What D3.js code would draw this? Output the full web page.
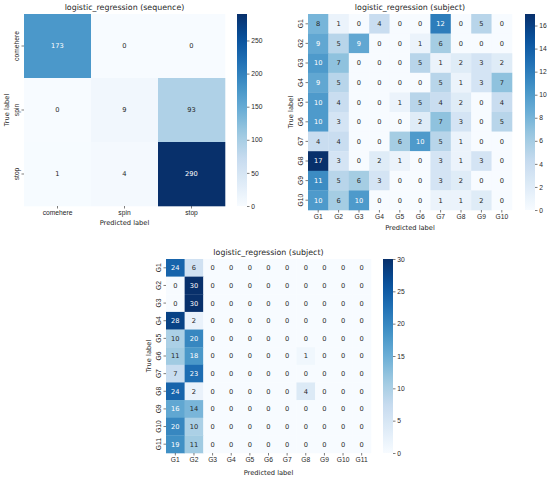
<!DOCTYPE html>
<meta charset="utf-8">
<style>
body { margin: 0; background: #fff; }
svg { font-family: "DejaVu Sans", sans-serif; }
.tick text { font-size: 6.7px; fill: #262626; }
.tick line { stroke: #262626; stroke-width: 0.6; }
.title { font-size: 7.9px; text-anchor: middle; }
.axlabel { font-size: 6.7px; text-anchor: middle; }
.annot { font-size: 6.7px; text-anchor: middle; }
</style>
<svg width="550" height="482"></svg>
<script src="https://d3js.org/d3.v7.min.js"></script>
<script>
// sequence model
var seqLabels = ["comehere", "spin", "stop"];
var seqMatrix = [
  [173, 0, 0],
  [0, 9, 93],
  [1, 4, 290]
];
var seqTicks = [0, 50, 100, 150, 200, 250];

// subject model, 10 groups
var subj10Labels = ["G1", "G2", "G3", "G4", "G5", "G6", "G7", "G8", "G9", "G10"];
var subj10Matrix = [
  [8, 1, 0, 4, 0, 0, 12, 0, 5, 0],
  [9, 5, 9, 0, 0, 1, 6, 0, 0, 0],
  [10, 7, 0, 0, 0, 5, 1, 2, 3, 2],
  [9, 5, 0, 0, 0, 0, 5, 1, 3, 7],
  [10, 4, 0, 0, 1, 5, 4, 2, 0, 4],
  [10, 3, 0, 0, 0, 2, 7, 3, 0, 5],
  [4, 4, 0, 0, 6, 10, 5, 1, 0, 0],
  [17, 3, 0, 2, 1, 0, 3, 1, 3, 0],
  [11, 5, 6, 3, 0, 0, 3, 2, 0, 0],
  [10, 6, 10, 0, 0, 0, 1, 1, 2, 0]
];
var subj10Ticks = [0, 2, 4, 6, 8, 10, 12, 14, 16];

// subject model, 11 groups
var subj11Labels = ["G1", "G2", "G3", "G4", "G5", "G6", "G7", "G8", "G9", "G10", "G11"];
var subj11Matrix = [
  [24, 6, 0, 0, 0, 0, 0, 0, 0, 0, 0],
  [0, 30, 0, 0, 0, 0, 0, 0, 0, 0, 0],
  [0, 30, 0, 0, 0, 0, 0, 0, 0, 0, 0],
  [28, 2, 0, 0, 0, 0, 0, 0, 0, 0, 0],
  [10, 20, 0, 0, 0, 0, 0, 0, 0, 0, 0],
  [11, 18, 0, 0, 0, 0, 0, 1, 0, 0, 0],
  [7, 23, 0, 0, 0, 0, 0, 0, 0, 0, 0],
  [24, 2, 0, 0, 0, 0, 0, 4, 0, 0, 0],
  [16, 14, 0, 0, 0, 0, 0, 0, 0, 0, 0],
  [20, 10, 0, 0, 0, 0, 0, 0, 0, 0, 0],
  [19, 11, 0, 0, 0, 0, 0, 0, 0, 0, 0]
];
var subj11Ticks = [0, 5, 10, 15, 20, 25, 30];

// matplotlib "Blues" anchors
var blues = ["#f7fbff", "#deebf7", "#c6dbef", "#9ecae1", "#6baed6",
             "#4292c6", "#2171b5", "#08519c", "#08306b"];
var bluesInterp = d3.piecewise(d3.interpolateRgb, blues);
var ink = "#262626";

var svg = d3.select("svg");
var defs = svg.append("defs");

function luminance(c) {
  var rgb = d3.rgb(c);
  var f = function(v) {
    v = v / 255;
    return v <= 0.03928 ? v / 12.92 : Math.pow((v + 0.055) / 1.055, 2.4);
  };
  return 0.2126 * f(rgb.r) + 0.7152 * f(rgb.g) + 0.0722 * f(rgb.b);
}

function heatmap(id, matrix, labels, cbTicks, title, box) {
  var flat = d3.merge(matrix);
  var vmin = d3.min(flat), vmax = d3.max(flat);
  var color = d3.scaleSequential(bluesInterp).domain([vmin, vmax]);

  var x = d3.scaleBand().domain(labels).range([box.x0, box.x1]);
  var y = d3.scaleBand().domain(labels).range([box.y0, box.y1]);

  var g = svg.append("g");

  var cells = [];
  matrix.forEach(function(row, i) {
    row.forEach(function(v, j) {
      cells.push({ t: labels[i], p: labels[j], v: v });
    });
  });

  g.selectAll(".cell").data(cells).enter().append("rect")
    .attr("x", function(d) { return x(d.p); })
    .attr("y", function(d) { return y(d.t); })
    .attr("width", x.bandwidth() + 0.3)
    .attr("height", y.bandwidth() + 0.3)
    .attr("fill", function(d) { return color(d.v); });

  g.selectAll(".annot").data(cells).enter().append("text")
    .attr("class", "annot")
    .attr("x", function(d) { return x(d.p) + x.bandwidth() / 2; })
    .attr("y", function(d) { return y(d.t) + y.bandwidth() / 2; })
    .attr("dy", "0.36em")
    .attr("fill", function(d) { return luminance(color(d.v)) < 0.408 ? "#fff" : ink; })
    .text(function(d) { return d.v; });

  // axes
  var xa = g.append("g")
    .attr("transform", "translate(0," + box.y1 + ")")
    .call(d3.axisBottom(x).tickSize(2.5).tickPadding(1.8));
  xa.select(".domain").remove();

  var ya = g.append("g")
    .attr("transform", "translate(" + box.x0 + ",0)")
    .call(d3.axisLeft(y).tickSize(2.5).tickPadding(1.8));
  ya.select(".domain").remove();
  ya.selectAll("text")
    .attr("x", null).attr("dy", null)
    .attr("text-anchor", "middle")
    .attr("transform", "translate(-4.6,0) rotate(-90)");

  g.append("text").attr("class", "title")
    .attr("x", (box.x0 + box.x1) / 2)
    .attr("y", box.y0 - 4)
    .attr("fill", ink)
    .text(title);

  g.append("text").attr("class", "axlabel")
    .attr("x", (box.x0 + box.x1) / 2)
    .attr("y", box.y1 + box.xl)
    .attr("fill", ink)
    .text("Predicted label");

  g.append("text").attr("class", "axlabel")
    .attr("transform", "translate(" + (box.x0 - box.yl) + "," + ((box.y0 + box.y1) / 2) + ") rotate(-90)")
    .attr("fill", ink)
    .text("True label");

  // colorbar
  var grad = defs.append("linearGradient")
    .attr("id", id)
    .attr("x1", 0).attr("y1", 1).attr("x2", 0).attr("y2", 0);
  d3.range(0, 1.0001, 0.05).forEach(function(t) {
    grad.append("stop")
      .attr("offset", t)
      .attr("stop-color", bluesInterp(t));
  });

  var cy = d3.scaleLinear().domain([vmin, vmax]).range([box.y1, box.y0]);
  g.append("rect")
    .attr("x", box.c0)
    .attr("y", box.y0)
    .attr("width", box.c1 - box.c0)
    .attr("height", box.y1 - box.y0)
    .attr("fill", "url(#" + id + ")");

  var ca = g.append("g")
    .attr("transform", "translate(" + box.c1 + ",0)")
    .call(d3.axisRight(cy).tickValues(cbTicks).tickSize(2.5).tickPadding(1.8));
  ca.select(".domain").remove();
}

heatmap("cb1", seqMatrix, seqLabels, seqTicks, "logistic_regression (sequence)",
  { x0: 24, x1: 225, y0: 14, y1: 206, c0: 237, c1: 247, xl: 19, yl: 15.5 });

heatmap("cb2", subj10Matrix, subj10Labels, subj10Ticks, "logistic_regression (subject)",
  { x0: 308, x1: 512, y0: 14, y1: 210, c0: 525, c1: 535, xl: 20, yl: 15.5 });

heatmap("cb3", subj11Matrix, subj11Labels, subj11Ticks, "logistic_regression (subject)",
  { x0: 166, x1: 371, y0: 259, y1: 453, c0: 383, c1: 393, xl: 22, yl: 15.5 });
</script>
